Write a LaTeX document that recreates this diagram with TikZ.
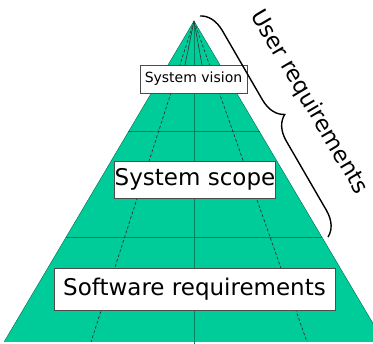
\documentclass[tikz,border=0pt]{standalone}
\usepackage{fontspec}
\setmainfont{DejaVu Sans}
\usepackage{tikz}
\usetikzlibrary{calc,decorations.pathreplacing}

\definecolor{pyrgreen}{RGB}{0,204,153}
\definecolor{gridgreen}{RGB}{0,130,95}

\tikzset{
  label box/.style={draw=black!70,fill=white,inner sep=0pt,line width=0.8pt},
  grid line/.style={draw=gridgreen,line width=1pt},
  dash line/.style={draw=black!80,dashed,dash pattern=on 3pt off 2pt,line width=0.7pt}
}

\begin{document}
\begin{tikzpicture}[x=1pt,y=-1pt]

\useasboundingbox (0,0) rectangle (373,344);

\coordinate (apex) at (194,21);
\coordinate (bl) at (4,342);
\coordinate (br) at (384,342);

\begin{scope}
\clip (0,0) rectangle (373,344);
\fill[pyrgreen] (apex) -- (bl) -- (br) -- cycle;

% horizontal levels
\coordinate (l1) at ($(apex)!0.3458!(bl)$);
\coordinate (r1) at ($(apex)!0.3458!(br)$);
\coordinate (l2) at ($(apex)!0.676!(bl)$);
\coordinate (r2) at ($(apex)!0.676!(br)$);
\path[grid line] (l1) -- (r1);
\path[grid line] (l2) -- (r2);

% centre line and dashed lines
\path[grid line] (apex) -- (194,344);
\path[dash line] (apex) -- (91,342);
\path[dash line] (apex) -- (307,342);
\path[draw=black!80,line width=0.6pt] (apex) -- (185,65);
\path[draw=black!80,line width=0.6pt] (apex) -- (202,65);

\draw[draw=gridgreen!80!black,line width=0.4pt] (bl) -- (apex) -- (br);
\end{scope}

% boxes
\node[label box,minimum width=107pt,minimum height=28pt,font=\fontsize{14}{16}\selectfont] (vision) at (193.5,79) {System vision};
\node[label box,minimum width=152pt,minimum height=37pt,font=\fontsize{23}{26}\selectfont] (scope) at (195,179.5) {System scope};
\node[label box,minimum width=281pt,minimum height=42pt,font=\fontsize{23}{26}\selectfont] (software) at (194.5,289) {Software requirements};

% brace and its label
\coordinate (btop) at (200,16);
\coordinate (bbot) at (328,237);
\draw[line width=1.4pt,decorate,decoration={brace,amplitude=24pt,aspect=0.5}] (btop) -- (bbot);
\node[rotate=-59.5,font=\fontsize{22.5}{26}\selectfont,anchor=center] (userreq) at (309,102) {User requirements};

\end{tikzpicture}
\end{document}
